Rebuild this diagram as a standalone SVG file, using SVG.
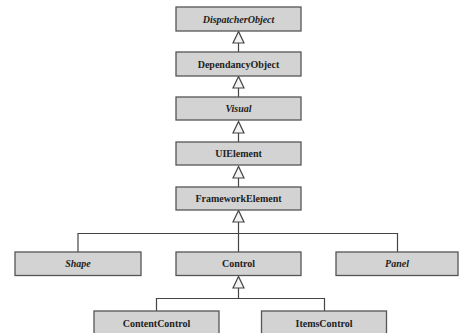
<svg xmlns="http://www.w3.org/2000/svg" width="459" height="333" viewBox="0 0 459 333">
<style>
.box{fill:#d3d3d3;stroke:#555;stroke-width:1.3}
.t{font-family:"Liberation Serif","Times New Roman",serif;font-size:10px;font-weight:bold;fill:#222;text-anchor:middle}
.i{font-style:italic}
.ln{fill:none;stroke:#444;stroke-width:1.2}
.tri{fill:#f4f4f4;stroke:#444;stroke-width:1.2}
</style>
<rect width="459" height="333" fill="#fff"/>
<g id="connectors">
<line class="ln" x1="238.5" y1="43" x2="238.5" y2="52"/>
<polygon class="tri" points="238.5,31.5 233,43 244,43"/>
<line class="ln" x1="238.5" y1="88" x2="238.5" y2="97"/>
<polygon class="tri" points="238.5,76.5 233,88 244,88"/>
<line class="ln" x1="238.5" y1="133" x2="238.5" y2="142"/>
<polygon class="tri" points="238.5,121.5 233,133 244,133"/>
<line class="ln" x1="238.5" y1="178" x2="238.5" y2="187"/>
<polygon class="tri" points="238.5,166.5 233,178 244,178"/>
<line class="ln" x1="238.5" y1="222" x2="238.5" y2="252"/>
<polyline class="ln" points="78,252 78,233.5 397.5,233.5 397.5,252"/>
<polygon class="tri" points="238.5,210.5 233,222 244,222"/>
<line class="ln" x1="238.5" y1="288" x2="238.5" y2="298.5"/>
<polyline class="ln" points="156.5,311 156.5,298.5 324.5,298.5 324.5,311"/>
<polygon class="tri" points="238.5,276.5 233,288 244,288"/>
</g>
<g id="DispatcherObject"><rect class="box" x="176" y="7" width="125" height="24"/><text class="t i" x="238.5" y="22.5">DispatcherObject</text></g>
<g id="DependancyObject"><rect class="box" x="176" y="52" width="125" height="24"/><text class="t" x="238.5" y="67.5">DependancyObject</text></g>
<g id="Visual"><rect class="box" x="176" y="97" width="125" height="23"/><text class="t i" x="238.5" y="112">Visual</text></g>
<g id="UIElement"><rect class="box" x="176" y="142" width="125" height="23"/><text class="t" x="238.5" y="157">UIElement</text></g>
<g id="FrameworkElement"><rect class="box" x="176" y="187" width="125" height="23"/><text class="t" x="238.5" y="202">FrameworkElement</text></g>
<g id="Shape"><rect class="box" x="15" y="252" width="126" height="23.5"/><text class="t i" x="78" y="267">Shape</text></g>
<g id="Control"><rect class="box" x="176" y="252" width="125" height="23.5"/><text class="t" x="238.5" y="267">Control</text></g>
<g id="Panel"><rect class="box" x="336" y="252" width="122" height="23.5"/><text class="t i" x="397" y="267">Panel</text></g>
<g id="ContentControl"><rect class="box" x="94" y="311" width="125" height="24"/><text class="t" x="156.5" y="327">ContentControl</text></g>
<g id="ItemsControl"><rect class="box" x="261.5" y="311" width="125" height="24"/><text class="t" x="324" y="327">ItemsControl</text></g>
</svg>
